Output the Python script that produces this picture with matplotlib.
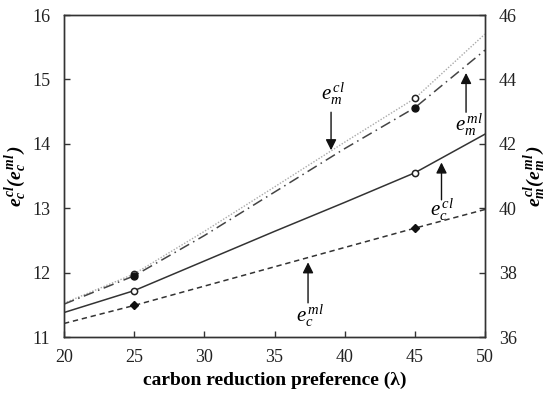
import matplotlib
matplotlib.use("Agg")
import matplotlib.pyplot as plt

plt.rcParams['font.family'] = ['Liberation Serif', 'DejaVu Serif']
plt.rcParams['mathtext.fontset'] = 'custom'
plt.rcParams['mathtext.rm'] = 'Liberation Serif'
plt.rcParams['mathtext.it'] = 'Liberation Serif:italic'
plt.rcParams['mathtext.bf'] = 'Liberation Serif:bold:italic'

lam = [20, 25, 30, 35, 40, 45, 50]
ec_cl = [11.38, 11.72, 12.18, 12.64, 13.09, 13.55, 14.15]
ec_ml = [11.21, 11.49, 11.79, 12.09, 12.39, 12.69, 12.98]
em_cl = [37.05, 37.96, 39.28, 40.66, 42.05, 43.41, 45.41]
em_ml = [37.02, 37.90, 39.15, 40.50, 41.85, 43.12, 44.91]
marker_lam = [25, 45]

fig = plt.figure(figsize=(5.5, 3.98), dpi=100)
ax = fig.add_axes([64/550, 1-337/398, (485-64)/550, (337-15)/398])
ax2 = ax.twinx()

def pick(xs, ys):
    return [x for x in xs if x in marker_lam], [y for x, y in zip(xs, ys) if x in marker_lam]

ax.plot(lam, ec_cl, color='#333333', lw=1.1, ls='-')
mx, my = pick(lam, ec_cl)
ax.plot(mx, my, ls='none', marker='o', ms=4.5, mfc='white', mec='#222222', mew=1.1)
ax.plot(lam, ec_ml, color='#333333', lw=1.1, ls=(0, (3.5, 2.5)))
mx, my = pick(lam, ec_ml)
ax.plot(mx, my, ls='none', marker='D', ms=4, mfc='#111111', mec='#111111')

ax2.plot(lam, em_cl, color='#aaaaaa', lw=1.0, ls=(0, (1, 1.2)))
ax2.plot(lam, em_ml, color='#444444', lw=1.1, ls=(0, (7, 3, 1, 3)))
mx, my = pick(lam, em_cl)
ax2.plot(mx, my, ls='none', marker='o', ms=4.5, mfc='white', mec='#222222', mew=1.1)
mx, my = pick(lam, em_ml)
ax2.plot(mx, my, ls='none', marker='o', ms=5, mfc='#111111', mec='#111111')

ax.set_xlim(20, 50)
ax.set_ylim(11, 16)
ax2.set_ylim(36, 46)
ax.set_xticks([20, 25, 30, 35, 40, 45, 50])
ax.set_yticks([11, 12, 13, 14, 15, 16])
ax2.set_yticks([36, 38, 40, 42, 44, 46])

for a in (ax, ax2):
    for s in a.spines.values():
        s.set_color('#333333')
        s.set_linewidth(1.0)
ax.tick_params(axis='both', direction='in', length=4, width=1, labelsize=13, pad=9, colors='#333333', labelcolor='#222222')
ax.tick_params(axis='y', pad=10)
ax2.tick_params(axis='y', direction='in', length=4, width=1, labelsize=13, pad=10, colors='#333333', labelcolor='#222222')

ax.set_xlabel('carbon reduction preference (λ)', fontsize=14, fontweight='bold', labelpad=4)
ax.set_ylabel(r'$\mathbf{e_c^{\,cl}(e_c^{\,ml}\,)}$', fontsize=14, labelpad=2)
ax2.set_ylabel(r'$\mathbf{e_m^{\,cl}(e_m^{\,ml}\,)}$', fontsize=14, labelpad=4)

arrowprops = dict(arrowstyle='-|>', color='#111111', lw=1.0, mutation_scale=16, shrinkA=0, shrinkB=0)
ax.annotate('', xy=(39.03, 13.90), xytext=(39.03, 14.49), arrowprops=arrowprops)
ax.text(39.17, 14.77, r'$e_m^{\,cl}$', fontsize=15, ha='center', va='center')
ax.annotate('', xy=(48.65, 15.10), xytext=(48.65, 14.49), arrowprops=arrowprops)
ax.text(48.87, 14.30, r'$e_m^{\,ml}$', fontsize=15, ha='center', va='center')
ax.annotate('', xy=(46.9, 13.71), xytext=(46.9, 13.13), arrowprops=arrowprops)
ax.text(46.92, 12.98, r'$e_c^{\,cl}$', fontsize=15, ha='center', va='center')
ax.annotate('', xy=(37.39, 12.16), xytext=(37.39, 11.53), arrowprops=arrowprops)
ax.text(37.55, 11.33, r'$e_c^{\,ml}$', fontsize=15, ha='center', va='center')

fig.savefig('out.png', dpi=100)
